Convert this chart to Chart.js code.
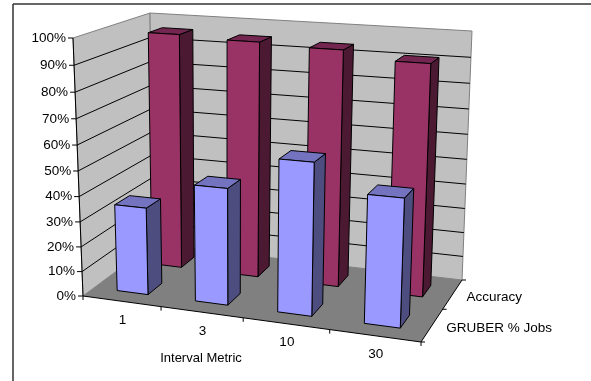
<!DOCTYPE html>
<html>
<head>
<meta charset="utf-8">
<title>Interval Metric</title>
<script src="https://cdn.jsdelivr.net/npm/chart.js@4"></script>
<style>
html, body { margin: 0; padding: 0; background: #fff; overflow: hidden; }
#wrap { position: relative; width: 591px; height: 381px; }
</style>
</head>
<body>
<div id="wrap"><canvas id="chart" width="591" height="381"></canvas></div>
<script>
const categories = ['1', '3', '10', '30'];
const seriesNames = ['GRUBER % Jobs', 'Accuracy'];
const gruberJobs = [35, 46, 59, 49];
const accuracy = [96, 95, 94, 91];
const axisTitle = 'Interval Metric';

// corners of the 3D box as drawn in the picture
const floorCorners = [[83, 296], [421, 342], [462, 280], [153, 244]];
const topCorners = [[73, 38], [431, 61], [472, 31], [150, 13]];
const heightPerspective = -0.06;

// unit square to quad homography
function quadMap(q) {
    const [[x0, y0], [x1, y1], [x2, y2], [x3, y3]] = q;
    const dx1 = x1 - x2, dx2 = x3 - x2, sx = x0 - x1 + x2 - x3;
    const dy1 = y1 - y2, dy2 = y3 - y2, sy = y0 - y1 + y2 - y3;
    const den = dx1 * dy2 - dx2 * dy1;
    const g = (sx * dy2 - dx2 * sy) / den;
    const h = (dx1 * sy - sx * dy1) / den;
    const a = x1 - x0 + g * x1, b = x3 - x0 + h * x3;
    const d = y1 - y0 + g * y1, e = y3 - y0 + h * y3;
    return (u, v) => {
        const w = g * u + h * v + 1;
        return [(a * u + b * v + x0) / w, (d * u + e * v + y0) / w];
    };
}
const floorMap = quadMap(floorCorners);
const topMap = quadMap(topCorners);

// u: along categories, v: height, w: depth, all 0..1
function project(u, v, w) {
    const f = floorMap(u, w);
    const t = topMap(u, w);
    const s = v * (1 + heightPerspective) / (1 + heightPerspective * v);
    return [f[0] + (t[0] - f[0]) * s, f[1] + (t[1] - f[1]) * s];
}

function poly(ctx, pts, fill, stroke, lw) {
    ctx.beginPath();
    pts.forEach((p, i) => i ? ctx.lineTo(p[0], p[1]) : ctx.moveTo(p[0], p[1]));
    ctx.closePath();
    if (fill) { ctx.fillStyle = fill; ctx.fill(); }
    if (stroke) { ctx.strokeStyle = stroke; ctx.lineWidth = lw || 1; ctx.stroke(); }
}

function line(ctx, a, b, color, lw) {
    ctx.beginPath();
    ctx.moveTo(a[0], a[1]);
    ctx.lineTo(b[0], b[1]);
    ctx.strokeStyle = color;
    ctx.lineWidth = lw || 1;
    ctx.stroke();
}

const box3d = {
    id: 'box3d',
    beforeDatasetsDraw(chart) {
        const ctx = chart.ctx;
        const { x, y, z } = chart.scales;
        const heightOf = val => (y.bottom - y.getPixelForValue(val)) / (y.bottom - y.top);

        ctx.save();

        // frame, only left and top are inside the picture
        line(ctx, [13, 4], [13, 381], '#333', 1.5);
        line(ctx, [13, 4], [591, 4], '#333', 1.5);

        // walls and floor
        poly(ctx, [project(0, 0, 0), project(0, 1, 0), project(0, 1, 1), project(0, 0, 1)], '#c0c0c0', '#808080');
        poly(ctx, [project(0, 0, 1), project(0, 1, 1), project(1, 1, 1), project(1, 0, 1)], '#c0c0c0', '#808080');
        poly(ctx, [project(0, 0, 0), project(1, 0, 0), project(1, 0, 1), project(0, 0, 1)], '#808080');

        // gridlines from the y scale
        y.ticks.forEach(t => {
            const v = heightOf(t.value);
            if (t.value > 0 && t.value < 100) {
                line(ctx, project(0, v, 0), project(0, v, 1), '#000');
                line(ctx, project(0, v, 1), project(1, v, 1), '#000');
            }
        });

        // axes and tick marks
        line(ctx, project(0, 0, 0), project(0, 1, 0), '#000');
        line(ctx, project(0, 0, 0), project(1, 0, 0), '#000');
        line(ctx, project(1, 0, 0), project(1, 0, 1), '#000');

        ctx.fillStyle = '#000';
        ctx.font = '13.5px "Liberation Sans", Arial, sans-serif';
        ctx.textBaseline = 'middle';

        y.ticks.forEach(t => {
            const v = heightOf(t.value);
            const p = project(0, v, 0);
            line(ctx, [p[0] - 5, p[1]], p, '#000');
            ctx.textAlign = 'right';
            ctx.fillText(t.label, p[0] - 7, p[1]);
        });

        const nx = categories.length;
        for (let i = 0; i <= nx; i++) {
            const p = project(i / nx, 0, 0);
            line(ctx, p, [p[0], p[1] + 4], '#000');
        }
        categories.forEach((c, i) => {
            const p = project((i + 0.5) / nx, 0, 0);
            ctx.textAlign = 'center';
            ctx.fillText(c, p[0] + 1, p[1] + 19);
        });

        const nz = seriesNames.length;
        for (let j = 0; j <= nz; j++) {
            const p = project(1, 0, j / nz);
            line(ctx, p, [p[0] + 4, p[1]], '#000');
        }
        seriesNames.forEach((s, j) => {
            const p = project(1, 0, (j + 0.5) / nz);
            ctx.textAlign = 'left';
            ctx.fillText(s, p[0] + 14, p[1] + 3);
        });

        ctx.textAlign = 'center';
        ctx.font = '13px "Liberation Sans", Arial, sans-serif';
        ctx.fillText(axisTitle, 201, 358);

        // bars, back row first, left to right
        const rows = [
            { ds: 1, front: '#993366', top: '#732650', side: '#4c1933' },
            { ds: 0, front: '#9999ff', top: '#7373bf', side: '#4d4d80' }
        ];
        rows.forEach(r => {
            const dataset = chart.data.datasets[r.ds];
            const zc = (z.getPixelForValue(r.ds) - z.left) / (z.right - z.left);
            const w0 = zc - 0.1, w1 = zc + 0.1;
            dataset.data.forEach((val, i) => {
                const uc = (x.getPixelForValue(i) - x.left) / (x.right - x.left);
                const u0 = uc - 0.05, u1 = uc + 0.05;
                const v = heightOf(val);
                poly(ctx, [project(u1, 0, w0), project(u1, 0, w1), project(u1, v, w1), project(u1, v, w0)], r.side, '#000');
                poly(ctx, [project(u0, v, w0), project(u1, v, w0), project(u1, v, w1), project(u0, v, w1)], r.top, '#000');
                poly(ctx, [project(u0, 0, w0), project(u1, 0, w0), project(u1, v, w0), project(u0, v, w0)], r.front, '#000');
            });
        });
        ctx.restore();
    }
};

new Chart(document.getElementById('chart'), {
    type: 'bar',
    data: {
        labels: categories,
        datasets: [
            { label: seriesNames[0], data: gruberJobs, backgroundColor: 'transparent' },
            { label: seriesNames[1], data: accuracy, backgroundColor: 'transparent' }
        ]
    },
    options: {
        responsive: false,
        animation: false,
        events: [],
        layout: { padding: 0 },
        scales: {
            x: { display: false },
            y: {
                display: false,
                min: 0,
                max: 100,
                ticks: { stepSize: 10, callback: v => v + '%' }
            },
            z: {
                type: 'category',
                axis: 'x',
                position: 'bottom',
                display: false,
                labels: seriesNames,
                offset: true
            }
        },
        plugins: { legend: { display: false }, tooltip: { enabled: false } }
    },
    plugins: [box3d]
});
</script>
</body>
</html>
